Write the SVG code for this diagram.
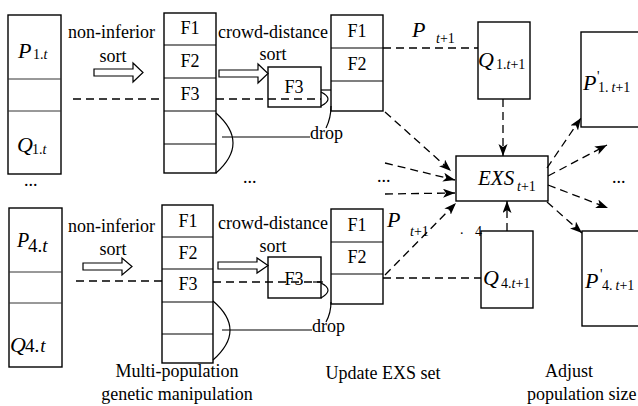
<svg xmlns="http://www.w3.org/2000/svg" width="638" height="406" viewBox="0 0 638 406" font-family="'Liberation Serif', 'DejaVu Serif', serif">
<style>
text{font-family:'Liberation Serif','DejaVu Serif',serif;fill:#000;font-size:18px}
.it{font-style:italic}
.big{font-size:22px}
.sub{font-size:14px}
.box{fill:#fff;stroke:#000;stroke-width:1.4}
.div{stroke:#000;stroke-width:1.2;fill:none}
.thin{stroke:#333;stroke-width:1;fill:none}
.dash{stroke:#000;stroke-width:1.3;fill:none;stroke-dasharray:8 5}
.arr{marker-end:url(#ah)}
.sol{stroke:#000;stroke-width:1.2;fill:none}
.hol{fill:#fff;stroke:#000;stroke-width:1.2}
.m{text-anchor:middle}
</style>
<defs>
<marker id="ah" markerUnits="userSpaceOnUse" markerWidth="14" markerHeight="10" refX="12" refY="4.5" orient="auto">
<path d="M0,0 L12,4.5 L0,9 L3,4.5 z" fill="#000"/>
</marker>
</defs>
<rect width="638" height="406" fill="#fff"/>

<g id="pop1">
<rect class="box" x="8" y="15" width="53" height="159"/>
<path class="thin" d="M8,79 H61 M8,111 H61"/>
<text class="it big" x="18" y="58">P</text><text class="sub" x="33" y="59">1.<tspan class="it">t</tspan></text>
<text class="it big" x="17" y="152">Q</text><text class="sub" x="32" y="154">1.<tspan class="it">t</tspan></text>
</g>
<g id="sort1">
<rect class="box" x="164" y="13" width="52" height="160"/>
<path class="div" d="M164,45 H216 M164,78 H216 M164,111 H216 M164,144 H216"/>
<text class="m" x="190" y="34">F1</text>
<text class="m" x="190" y="67">F2</text>
<text class="m" x="190" y="100">F3</text>
</g>
<g id="f3top">
<rect class="box" x="268" y="67" width="53" height="40"/>
<text class="m" x="294" y="93">F3</text>
</g>
<g id="upd1">
<rect class="box" x="331" y="15" width="52" height="96"/>
<path class="div" d="M331,48 H383 M331,81 H383"/>
<text class="m" x="357" y="37">F1</text>
<text class="m" x="357" y="70">F2</text>
</g>
<g id="q1">
<rect class="box" x="478" y="22" width="52" height="77"/>
<text class="it big" x="478" y="67">Q</text><text class="sub" x="496" y="69">1.<tspan class="it">t</tspan>+1</text>
</g>
<g id="p1n">
<rect class="box" x="581" y="32" width="62" height="95"/>
<text class="it big" x="583" y="90">P</text><text class="sub" x="597" y="81">'</text><text class="sub" x="598" y="92">1.<tspan class="it" dx="3">t</tspan>+1</text>
</g>
<g id="exs">
<rect class="box" x="456" y="156" width="92" height="45"/>
<text class="it" style="font-size:21px" x="478" y="185">EXS</text><text class="sub it" x="517" y="191">t<tspan font-style="normal">+1</tspan></text>
</g>

<g id="pop4">
<rect class="box" x="9" y="208" width="53" height="159"/>
<path class="thin" d="M9,272 H62 M9,303 H62"/>
<text class="it" style="font-size:20px" x="17" y="247">P</text><text style="font-size:19px" x="28" y="252">4.<tspan class="it">t</tspan></text>
<text class="it big" x="10" y="352">Q</text><text style="font-size:19px" x="25" y="352">4.<tspan class="it" dx="1">t</tspan></text>
</g>
<g id="sort4">
<rect class="box" x="162" y="205" width="51" height="158"/>
<path class="div" d="M162,237 H213 M162,269 H213 M162,302 H213 M162,334 H213"/>
<text class="m" x="188" y="227">F1</text>
<text class="m" x="188" y="259">F2</text>
<text class="m" x="188" y="290">F3</text>
</g>
<g id="f3bot">
<rect class="box" x="268" y="257" width="53" height="41"/>
<text class="m" x="294" y="285">F3</text>
</g>
<g id="upd4">
<rect class="box" x="331" y="209" width="52" height="95"/>
<path class="div" d="M331,242 H383 M331,274 H383"/>
<text class="m" x="357" y="231">F1</text>
<text class="m" x="357" y="263">F2</text>
</g>
<g id="q4">
<rect class="box" x="481" y="231" width="52" height="77"/>
<text class="it big" x="483" y="285">Q</text><text class="sub" x="501" y="288">4.<tspan class="it">t</tspan>+1</text>
</g>
<g id="p4n">
<rect class="box" x="582" y="231" width="62" height="95"/>
<text class="it big" x="585" y="288">P</text><text class="sub" x="600" y="279">'</text><text class="sub" x="602" y="290">4.<tspan class="it" dx="3">t</tspan>+1</text>
</g>

<g id="connectors">
<polygon class="hol" points="94,69 133,69 133,63 143,72.5 133,82 133,76 94,76"/>
<polygon class="hol" points="219,70 258,70 258,64 268,73.5 258,83 258,77 219,77"/>
<polygon class="hol" points="83,263 122,263 122,258 132,266.5 122,275 122,270 83,270"/>
<polygon class="hol" points="218,262 257,262 257,258 268,265.5 257,273 257,269 218,269"/>

<path class="dash" d="M73,99 H164 M216,99 H321"/>
<path class="sol" d="M321,90 H331"/>
<path class="sol" d="M321,92 Q335,99 321,106"/>
<path class="sol" d="M331,106 Q331,118 326,128"/>
<path class="sol" d="M216,113 Q250,143 216,173"/>
<path class="sol" d="M222,137 H310"/>

<path class="dash" d="M76,281 H162 M213,282 H321"/>
<path class="sol" d="M313,282 H323"/>
<path class="sol" d="M321,283 Q335,290 321,298"/>
<path class="sol" d="M331,302 Q331,313 326,322"/>
<path class="sol" d="M213,301 Q247,330 213,360"/>
<path class="sol" d="M222,330 H312"/>

<path class="dash" d="M383,48 H478"/>
<path class="dash" d="M383,278 H481"/>

<path class="dash arr" d="M503,99 V156"/>
<path class="dash arr" d="M507,231 V201"/>
<path class="dash arr" d="M385,112 L451,171"/>
<path class="dash arr" d="M385,163 L455,180"/>
<path class="dash arr" d="M385,194 L455,193"/>
<path class="dash arr" d="M385,275 L456,203"/>
<path class="dash arr" d="M547,168 L581,118"/>
<path class="dash arr" d="M548,176 L607,145"/>
<path class="dash arr" d="M548,185 L608,208"/>
<path class="dash arr" d="M547,202 L582,233"/>
</g>

<g id="labels">
<text x="68" y="38">non-inferior</text>
<text class="m" x="113" y="62">sort</text>
<text x="68" y="232">non-inferior</text>
<text class="m" x="113" y="255">sort</text>
<text x="218" y="38">crowd-distance</text>
<text class="m" x="273" y="60">sort</text>
<text x="218" y="229">crowd-distance</text>
<text class="m" x="273" y="252">sort</text>
<text x="310" y="139">drop</text>
<text x="312" y="332">drop</text>
<text class="it big" x="412" y="37">P</text><text class="sub it" x="436" y="43">t<tspan font-style="normal">+1</tspan></text>
<text class="it big" x="387" y="227">P</text><text class="sub it" x="410" y="236">t<tspan font-style="normal">+1</tspan></text>
<text class="sub" x="460" y="234">.</text><text class="sub" x="475" y="236">4</text>
<text x="24" y="186">...</text>
<text x="243" y="183">...</text>
<text x="377" y="182">...</text>
<text x="612" y="183">...</text>
<text class="m" x="177" y="377">Multi-population</text>
<text class="m" x="177" y="400">genetic manipulation</text>
<text class="m" x="383" y="379">Update EXS set</text>
<text x="545" y="377">Adjust</text>
<text x="527" y="400">population size</text>
</g>
</svg>
